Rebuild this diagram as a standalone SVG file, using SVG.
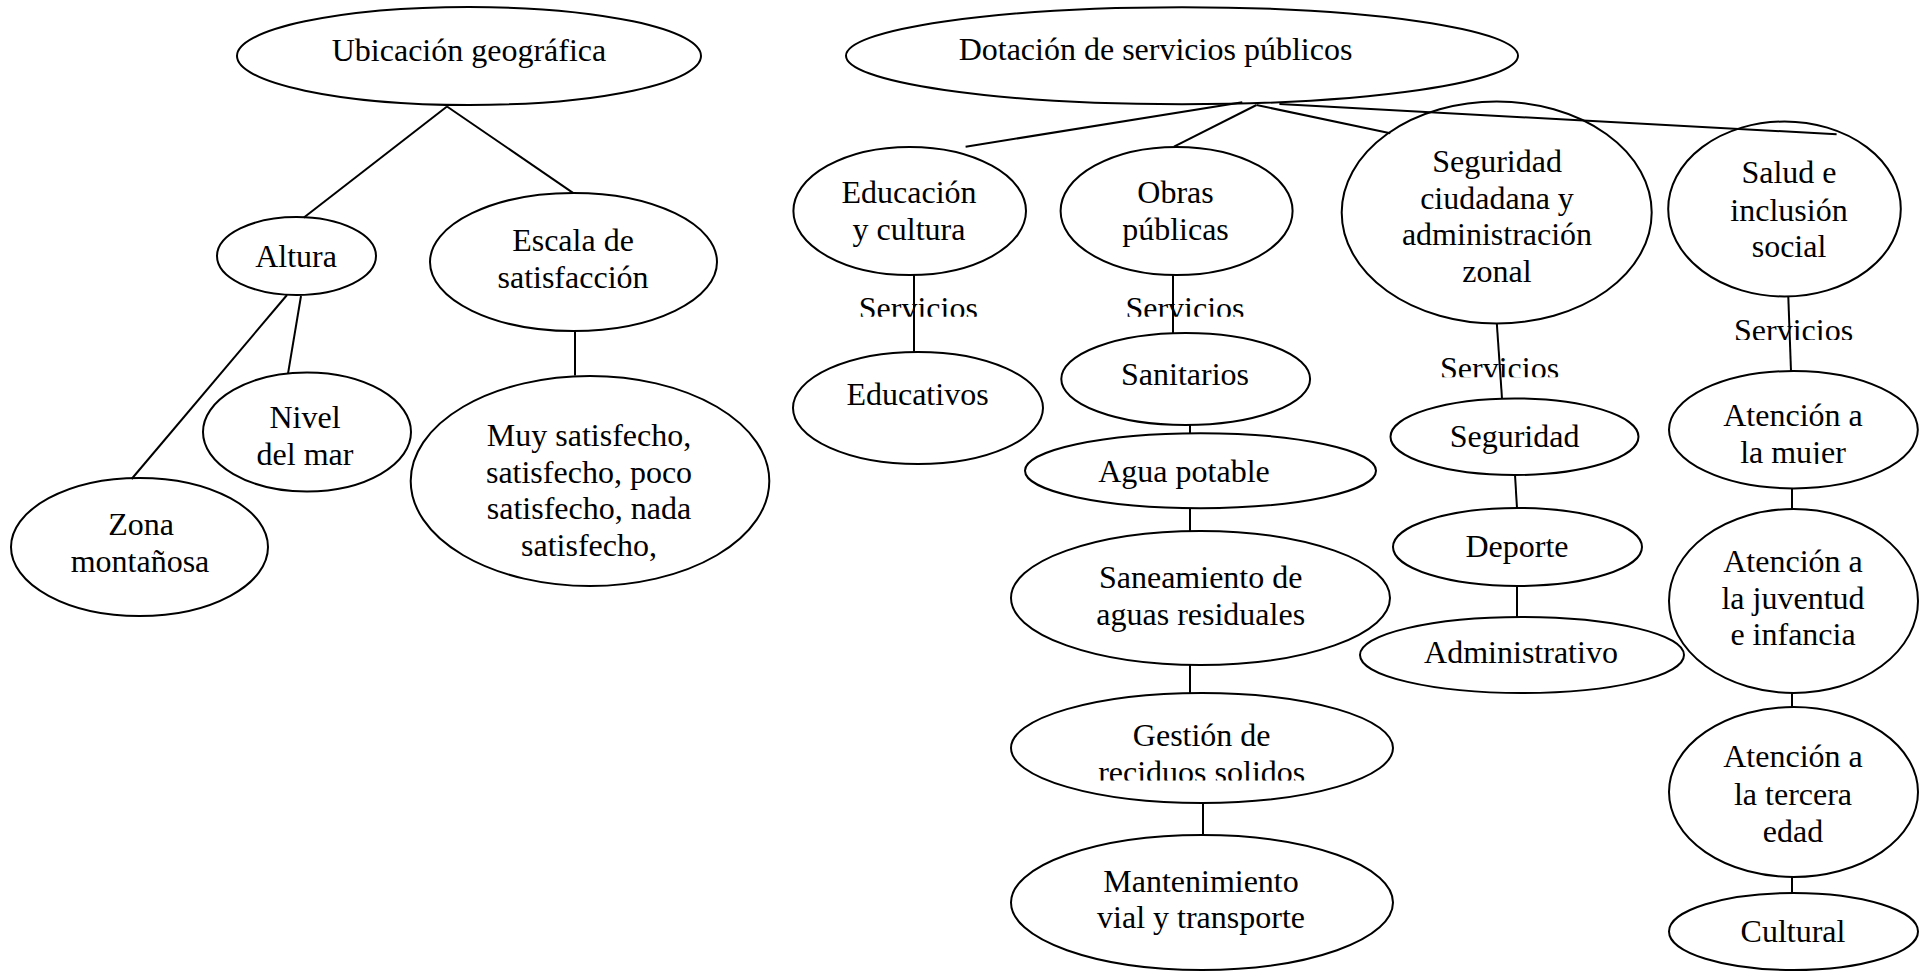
<svg xmlns="http://www.w3.org/2000/svg" width="1921" height="971" viewBox="0 0 1921 971">
<style>
  .n ellipse { fill: #fff; stroke: #000; stroke-width: 2; }
  .n text, text.lbl { font-family: "Liberation Serif", "Times New Roman", serif; font-size: 32px; fill: #000; text-anchor: middle; }
  #connectors line { stroke: #000; stroke-width: 2; }
</style>
<defs>
  <clipPath id="c1" clipPathUnits="userSpaceOnUse"><rect x="840" y="280" width="160" height="36.7"/></clipPath>
  <clipPath id="c2" clipPathUnits="userSpaceOnUse"><rect x="1105" y="280" width="160" height="36.7"/></clipPath>
  <clipPath id="c3" clipPathUnits="userSpaceOnUse"><rect x="1420" y="340" width="160" height="37.3"/></clipPath>
  <clipPath id="c4" clipPathUnits="userSpaceOnUse"><rect x="1714" y="300" width="160" height="40"/></clipPath>
  <clipPath id="c5" clipPathUnits="userSpaceOnUse"><rect x="1050" y="700" width="300" height="80.5"/></clipPath>
  <clipPath id="c6" clipPathUnits="userSpaceOnUse"><rect x="1700" y="380" width="190" height="84"/></clipPath>
</defs>

<g id="ubicacion" class="n"><ellipse cx="469" cy="56" rx="232" ry="49"/><text x="469" y="61">Ubicación geográfica</text></g>
<g id="altura" class="n"><ellipse cx="296.5" cy="256" rx="79.5" ry="39"/><text x="296" y="267">Altura</text></g>
<g id="escala" class="n"><ellipse cx="573.5" cy="262" rx="143.5" ry="69"/><text x="573" y="251">Escala de</text><text x="573" y="288">satisfacción</text></g>
<g id="nivel" class="n"><ellipse cx="307" cy="432" rx="104" ry="59.5"/><text x="305" y="428">Nivel</text><text x="305" y="464.5">del mar</text></g>
<g id="zona" class="n"><ellipse cx="139.5" cy="547" rx="128.5" ry="69"/><text x="141" y="535">Zona</text><text x="140" y="571.5">montañosa</text></g>
<g id="muy" class="n"><ellipse cx="590" cy="481" rx="179.3" ry="105"/><text x="589" y="446">Muy satisfecho,</text><text x="589" y="483">satisfecho, poco</text><text x="589" y="519">satisfecho, nada</text><text x="589" y="556">satisfecho,</text></g>

<g id="dotacion" class="n"><ellipse cx="1182" cy="55.7" rx="336" ry="48.5"/><text x="1155.5" y="60">Dotación de servicios públicos</text></g>
<g id="educacion" class="n"><ellipse cx="909.7" cy="211" rx="116.3" ry="64"/><text x="909" y="202.5">Educación</text><text x="909" y="240">y cultura</text></g>
<g id="obras" class="n"><ellipse cx="1176.6" cy="211" rx="116" ry="64"/><text x="1175.5" y="202.5">Obras</text><text x="1175.5" y="240">públicas</text></g>
<g id="educativos" class="n"><ellipse cx="918" cy="408" rx="125" ry="56"/><text x="917.5" y="405">Educativos</text></g>
<g id="sanitarios" class="n"><ellipse cx="1185.7" cy="379" rx="124.4" ry="46"/><text x="1185" y="385">Sanitarios</text></g>
<g id="agua" class="n"><ellipse cx="1200.5" cy="470.7" rx="175.5" ry="37.5"/><text x="1184" y="482">Agua potable</text></g>
<g id="saneamiento" class="n"><ellipse cx="1200.5" cy="598" rx="189.5" ry="67"/><text x="1200.7" y="588">Saneamiento de</text><text x="1200.7" y="625">aguas residuales</text></g>
<g id="gestion" class="n"><ellipse cx="1202" cy="748" rx="191" ry="55"/><text x="1201.7" y="746">Gestión de</text><text x="1201.7" y="783" clip-path="url(#c5)">reciduos solidos</text></g>
<g id="mantenimiento" class="n"><ellipse cx="1202" cy="902.5" rx="191" ry="67.5"/><text x="1201" y="892">Mantenimiento</text><text x="1201" y="928">vial y transporte</text></g>

<g id="seguridad-ciudadana" class="n"><ellipse cx="1496.7" cy="212.5" rx="155" ry="111"/><text x="1497" y="172">Seguridad</text><text x="1497" y="208.5">ciudadana y</text><text x="1497" y="245">administración</text><text x="1497" y="281.5">zonal</text></g>
<g id="seguridad" class="n"><ellipse cx="1514.5" cy="436.7" rx="124" ry="38.3"/><text x="1514.5" y="446.7">Seguridad</text></g>
<g id="deporte" class="n"><ellipse cx="1517.5" cy="547" rx="124.5" ry="39"/><text x="1517" y="557">Deporte</text></g>
<g id="administrativo" class="n"><ellipse cx="1522" cy="655" rx="162" ry="38"/><text x="1521" y="663">Administrativo</text></g>

<g id="salud" class="n"><ellipse cx="1784.5" cy="209" rx="116.3" ry="87.5"/><text x="1789" y="183.3">Salud e</text><text x="1789" y="220.7">inclusión</text><text x="1789" y="257.3">social</text></g>
<g id="mujer" class="n"><ellipse cx="1793.4" cy="429.7" rx="124.4" ry="58.7"/><text x="1793" y="426">Atención a</text><text x="1793" y="462.7" clip-path="url(#c6)">la mujer</text></g>
<g id="juventud" class="n"><ellipse cx="1793.5" cy="601" rx="124.5" ry="92"/><text x="1793" y="572">Atención a</text><text x="1793" y="608.5">la juventud</text><text x="1793" y="645">e infancia</text></g>
<g id="tercera" class="n"><ellipse cx="1793.5" cy="792" rx="124.5" ry="85"/><text x="1793" y="767">Atención a</text><text x="1793" y="805">la tercera</text><text x="1793" y="842">edad</text></g>
<g id="cultural" class="n"><ellipse cx="1793.5" cy="931.5" rx="124.5" ry="38.5"/><text x="1793" y="942">Cultural</text></g>

<g id="labels">
  <text class="lbl" x="918.3" y="319.3" clip-path="url(#c1)">Servicios</text>
  <text class="lbl" x="1185" y="319.3" clip-path="url(#c2)">Servicios</text>
  <text class="lbl" x="1499.6" y="379.3" clip-path="url(#c3)">Servicios</text>
  <text class="lbl" x="1793.6" y="341" clip-path="url(#c4)">Servicios</text>
</g>

<g id="connectors">
  <line x1="447" y1="106.5" x2="303.6" y2="217.8"/>
  <line x1="447" y1="106.5" x2="573" y2="192.8"/>
  <line x1="287" y1="295" x2="131.6" y2="479"/>
  <line x1="301" y1="296" x2="288" y2="373.6"/>
  <line x1="575" y1="331" x2="575" y2="375.6"/>
  <line x1="1242.3" y1="102.3" x2="965.6" y2="146.7"/>
  <line x1="1256.5" y1="105" x2="1174" y2="146.7"/>
  <line x1="1256.5" y1="105" x2="1390.3" y2="133.3"/>
  <line x1="1279.4" y1="104" x2="1836.6" y2="134.3"/>
  <line x1="914" y1="275" x2="914" y2="351.7"/>
  <line x1="1173" y1="275" x2="1173" y2="333.3"/>
  <line x1="1190" y1="425" x2="1190" y2="433.3"/>
  <line x1="1190" y1="508" x2="1190" y2="531"/>
  <line x1="1190" y1="665" x2="1190" y2="693"/>
  <line x1="1203" y1="803" x2="1203" y2="835"/>
  <line x1="1496.8" y1="323.3" x2="1502" y2="398.3"/>
  <line x1="1515" y1="475" x2="1517" y2="508"/>
  <line x1="1517" y1="586" x2="1517" y2="617"/>
  <line x1="1788.3" y1="296.7" x2="1791" y2="371"/>
  <line x1="1792" y1="488.3" x2="1792" y2="509"/>
  <line x1="1792" y1="693" x2="1792" y2="707"/>
  <line x1="1792" y1="877" x2="1792" y2="893"/>
</g>
</svg>
